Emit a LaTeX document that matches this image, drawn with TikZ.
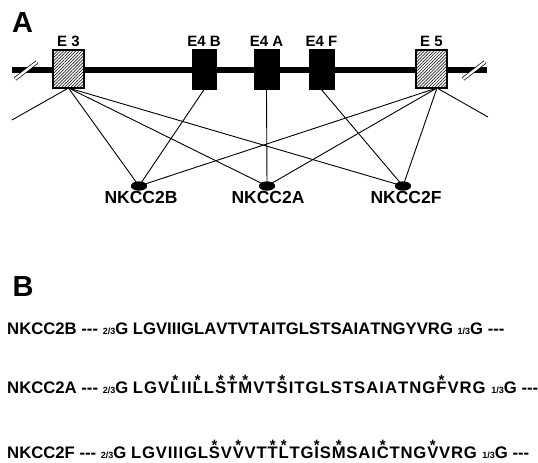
\documentclass[tikz,border=0pt]{standalone}
\usepackage{fontspec}
\setmainfont{Liberation Sans}
\usetikzlibrary{patterns.meta,shapes.geometric}
\newdimen\lsk
\lsk=0pt
\newcommand\starbox[1]{\setbox0=\hbox{#1}\rlap{\hbox to\wd0{\hss\raisebox{7.8pt}{\fontsize{15}{15}\selectfont *}\hss}}\box0}
\def\seqx#1{\ifx#1\relax\else\if*#1\expandafter\expandafter\expandafter\seqstar\else#1\kern\lsk\expandafter\expandafter\expandafter\seqx\fi\fi}
\def\seqstar#1{\starbox{#1}\kern\lsk\seqx}
\newcommand\aaseq[1]{\leavevmode\seqx#1\relax}
\newcommand\dsh{-{}-{}-}
\newcommand\fr[1]{{\fontsize{9}{9}\selectfont #1}}
\begin{document}
\begin{tikzpicture}[x=1pt,y=-1pt,
  hatchbox/.style={draw, line width=1.3pt, minimum width=31pt, minimum height=38pt, inner sep=0pt,
    preaction={fill=white}, pattern={Lines[angle=45,distance=2.2pt,line width=0.7pt]}, pattern color=black!85},
  blackbox/.style={draw, fill=black, minimum width=24.5pt, minimum height=40pt, inner sep=0pt},
  elab/.style={font=\fontsize{15}{15}\selectfont\bfseries, inner sep=0pt},
  dot/.style={ellipse, fill=black, minimum width=16pt, minimum height=9pt, inner sep=0pt},
  plab/.style={font=\fontsize{17.5}{17.5}\selectfont\bfseries, inner sep=0pt, anchor=base},
  seq/.style={font=\fontsize{16.7}{16.7}\selectfont\bfseries, inner sep=0pt, anchor=base west},
  conn/.style={line width=0.9pt},
  brk/.style={line width=0.7pt, double=white, double distance=2.4pt},
  panel/.style={font=\fontsize{29}{29}\selectfont\bfseries, inner sep=0pt}]
\useasboundingbox (0,0) rectangle (538,463);
% backbone
\coordinate (lend) at (12,70);
\coordinate (rend) at (487,70);
\draw[line width=5.5pt] (lend) -- (rend);
\coordinate (hl1) at (15,79); \coordinate (hl2) at (37,62);
\coordinate (hr1) at (463,79); \coordinate (hr2) at (485,62);
\draw[brk] (hl1) -- (hl2);
\draw[brk] (hr1) -- (hr2);
% exons
\node[hatchbox] (e3) at (68.5,69) {};
\node[hatchbox] (e5) at (431.5,69) {};
\node[blackbox] (e4b) at (204,69.5) {};
\node[blackbox] (e4a) at (266.5,69.5) {};
\node[blackbox] (e4f) at (321.5,69.5) {};
\node[elab] (le3) at (68.5,41.5) {E 3};
\node[elab] (le4b) at (204,41.5) {E4 B};
\node[elab] (le4a) at (266.5,41.5) {E4 A};
\node[elab] (le4f) at (321.5,41.5) {E4 F};
\node[elab] (le5) at (431.5,41.5) {E 5};
\node[panel] (pa) at (22.5,22.5) {A};
\node[panel] (pb) at (23,287) {B};
% products
\coordinate (s3) at (68.5,88);
\coordinate (s5) at (437,88);
\coordinate (sl) at (12,120);
\coordinate (sr) at (488,117);
\node[dot] (nb) at (139,186) {};
\node[dot] (na) at (267,186) {};
\node[dot] (nf) at (403,186) {};
\draw[conn] (s3) -- (sl);
\draw[conn] (s3) -- (nb.center);
\draw[conn] (s3) -- (na.center);
\draw[conn] (s3) -- (nf.center);
\draw[conn] (s5) -- (sr);
\draw[conn] (s5) -- (nb.center);
\draw[conn] (s5) -- (na.center);
\draw[conn] (s5) -- (nf.center);
\draw[conn] (e4b.south) -- (nb.center);
\draw[conn] (e4a.south) -- (na.center);
\draw[conn] (e4f.south) -- (nf.center);
\node[dot] at (nb) {};
\node[dot] at (na) {};
\node[dot] at (nf) {};
\node[plab] (lb) at (141,203) {NKCC2B};
\node[plab] (la) at (268,203) {NKCC2A};
\node[plab] (lf) at (406,203) {NKCC2F};
% sequences
\node[seq] (r1) at (7,334) {NKCC2B \dsh{} \fr{2/3}G \lsk=0pt\aaseq{LGVIIIGLAVTVTAITGLSTSAIATNGYVRG}\unskip\ \fr{1/3}G \dsh};
\node[seq] (r2) at (7,393) {NKCC2A \dsh{} \fr{2/3}G \lsk=1pt\aaseq{LGV*LII*LL*S*T*MVT*SITGLSTSAIATNG*FVRG}\ \fr{1/3}G \dsh};
\node[seq] (r3) at (7,458) {NKCC2F \dsh{} \fr{2/3}G \lsk=0.8pt\aaseq{LGVIIIGL*SV*VVT*T*LTG*IS*MSAI*CTNG*VVRG}\ \fr{1/3}G \dsh};
\end{tikzpicture}
\end{document}
